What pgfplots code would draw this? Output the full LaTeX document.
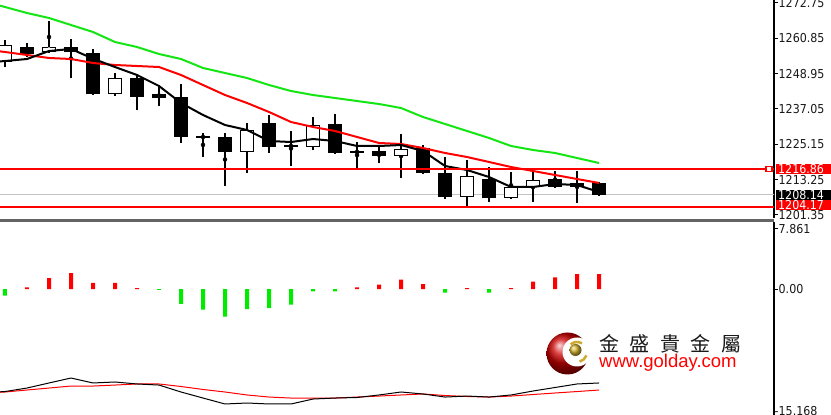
\documentclass[border=0pt]{standalone}
\usepackage{fontspec}
\setmainfont{DejaVu Sans}
\newfontfamily\condfont{DejaVu Sans Condensed}
\newfontfamily\cjk{Noto Sans CJK TC}
\newfontfamily\arialfont{Liberation Sans}
\usepackage{pgfplots}
\usepackage{pgfplotstable}
\pgfplotsset{compat=1.18}

\definecolor{mared}{RGB}{255,0,0}
\definecolor{magreen}{RGB}{20,230,20}
\definecolor{histgreen}{RGB}{0,235,0}
\definecolor{sepgray}{RGB}{100,100,100}
\definecolor{lgray}{RGB}{195,195,195}
\definecolor{gold}{RGB}{205,170,50}
\definecolor{txt}{RGB}{25,25,25}

% candles: wicks
\pgfplotstableread{
k H L
0 1260.3 1251.2
1 1259.3 1254.6
2 1266.7 1255.9
3 1260.6 1247.5
4 1257.3 1241.8
5 1249.2 1241.4
6 1248.5 1236.7
7 1245.1 1238.1
8 1245.5 1225.6
9 1229.0 1220.9
10 1229.0 1211.1
11 1232.3 1215.5
12 1235.0 1222.2
13 1229.6 1217.9
14 1234.4 1223.2
15 1235.4 1221.9
16 1225.9 1217.2
17 1224.3 1218.9
18 1228.6 1213.8
19 1224.9 1215.3
20 1220.9 1206.7
21 1219.9 1204.0
22 1217.5 1205.7
23 1215.8 1206.9
24 1215.8 1205.7
25 1216.2 1210.4
26 1216.2 1205.4
27 1212.5 1207.8
}\wicks

% bullish (white) bodies
\pgfplotstableread{
k O C
0 1252.9 1258.6
2 1256.2 1257.9
5 1242.1 1247.5
11 1222.6 1230.0
14 1224.3 1231.7
18 1221.2 1223.6
21 1207.4 1214.5
23 1207.1 1210.8
24 1210.8 1213.1
}\bulls

% bearish (black) bodies
\pgfplotstableread{
k O C
1 1257.9 1255.6
3 1257.9 1256.2
4 1255.9 1242.1
6 1247.5 1241.1
7 1242.1 1240.8
8 1241.1 1227.6
9 1227.8 1227.4
10 1227.6 1222.6
12 1232.3 1224.3
13 1224.8 1224.4
15 1232.0 1222.2
16 1222.9 1222.3
17 1222.9 1221.2
19 1223.9 1215.5
20 1215.5 1207.4
22 1213.5 1207.1
25 1213.5 1210.8
26 1212.1 1210.8
27 1212.1 1208.14
}\bears

% moving averages
\pgfplotstableread{
k blk red grn
-0.5 1252.9 1256.7 1272.4
0 1253.21 1256.25 1271.40
1 1253.89 1255.24 1269.38
2 1256.58 1254.23 1267.70
3 1257.26 1253.89 1265.34
4 1254.00 1252.54 1262.98
5 1251.19 1251.87 1259.61
6 1248.50 1251.53 1257.93
7 1244.79 1251.19 1255.57
8 1239.07 1248.50 1253.89
9 1235.03 1245.13 1250.86
10 1231.66 1241.76 1249.17
11 1229.98 1239.07 1247.49
12 1226.27 1236.04 1245.13
13 1225.93 1232.67 1243.11
14 1226.94 1230.99 1241.76
15 1226.27 1229.64 1240.75
16 1224.59 1227.62 1239.74
17 1224.59 1225.60 1238.73
18 1224.92 1225.26 1237.38
19 1222.90 1223.91 1234.35
20 1217.85 1222.23 1232.00
21 1216.50 1220.88 1229.64
22 1214.14 1219.20 1227.28
23 1210.78 1217.51 1224.59
24 1210.78 1216.17 1223.24
25 1211.79 1214.82 1222.23
26 1211.45 1213.47 1220.54
27 1209.09 1212.13 1218.86
}\mas

% indicator histogram
\pgfplotstableread{
k v
1 0.22
2 1.44
3 2.09
4 0.79
5 0.79
6 0.13
16 0.22
17 0.56
18 1.22
19 0.65
21 0.10
23 0.10
24 0.96
25 1.53
26 1.96
27 1.96
}\histpos
\pgfplotstableread{
k v
0 -0.88
7 -0.13
8 -1.96
9 -2.71
10 -3.63
11 -2.62
12 -2.49
13 -2.05
14 -0.30
15 -0.30
20 -0.48
22 -0.48
}\histneg

% indicator lines
\pgfplotstableread{
k blk red
-0.5 -13.50 -13.55
0 -13.42 -13.48
1 -12.96 -13.22
2 -12.30 -12.96
3 -11.65 -12.70
4 -12.30 -12.70
5 -12.17 -12.57
6 -12.43 -12.43
7 -12.57 -12.43
8 -13.48 -12.76
9 -14.27 -13.15
10 -15.05 -13.48
11 -14.92 -13.87
12 -15.05 -14.14
13 -15.05 -14.27
14 -14.40 -14.27
15 -14.27 -14.27
16 -14.20 -14.14
17 -13.87 -14.01
18 -13.48 -13.87
19 -13.74 -13.74
20 -14.14 -13.94
21 -14.01 -14.07
22 -14.14 -14.14
23 -13.87 -14.01
24 -13.35 -13.81
25 -12.89 -13.61
26 -12.43 -13.42
27 -12.30 -13.22
}\indlines

\begin{document}
\begin{tikzpicture}
\useasboundingbox (0pt,0pt) rectangle (831pt,415pt);
\fill[white] (0pt,0pt) rectangle (831pt,415pt);

\pgfplotsset{
  mt4/.style={
    scale only axis,
    width=774pt,
    xmin=-0.227, xmax=34.95,
    axis x line=none,
    axis y line*=right,
    tick align=outside,
    major tick length=4pt,
    y axis line style={black, line width=1.3pt},
    ytick style={black, line width=1pt},
    yticklabel style={font=\condfont\fontsize{12.3}{12.3}\selectfont, text=txt, anchor=west, inner xsep=0pt, xshift=0.5pt},
    clip mode=individual,
  }
}

% ---------------- price panel ----------------
\begin{axis}[mt4,
  at={(0pt,197pt)}, anchor=south west,
  height=218pt,
  ymin=1200.34, ymax=1273.76,
  ytick={1272.75,1260.85,1248.95,1237.05,1225.15,1213.25,1201.35},
  yticklabels={1272.75,1260.85,1248.95,1237.05,1225.15,1213.25,1201.35},
]
% reference line for last price
\addplot[lgray, line width=1pt, forget plot] coordinates {(-1,1208.14) (36,1208.14)};
% wicks
\addplot[black, only marks, mark=none, forget plot,
  error bars/.cd, y dir=both, y explicit, error mark=none,
  error bar style={draw=black, solid, line width=1.2pt}]
  table[x=k, y expr={(\thisrow{H}+\thisrow{L})/2}, y error expr={(\thisrow{H}-\thisrow{L})/2}] {\wicks};
% bearish bodies
\addplot[black, only marks, mark=none, forget plot,
  error bars/.cd, y dir=both, y explicit, error mark=none,
  error bar style={draw=black, solid, line width=14pt}]
  table[x=k, y expr={(\thisrow{O}+\thisrow{C})/2}, y error expr={(\thisrow{O}-\thisrow{C})/2}] {\bears};
% bullish bodies: outline then white fill
\addplot[black, only marks, mark=none, forget plot,
  error bars/.cd, y dir=both, y explicit, error mark=none,
  error bar style={draw=black, solid, line width=14pt}]
  table[x=k, y expr={(\thisrow{O}+\thisrow{C})/2}, y error expr={(\thisrow{C}-\thisrow{O})/2}] {\bulls};
\addplot[white, only marks, mark=none, forget plot,
  error bars/.cd, y dir=both, y explicit, error mark=none,
  error bar style={draw=white, solid, line width=12pt}]
  table[x=k, y expr={(\thisrow{O}+\thisrow{C})/2}, y error expr={(\thisrow{C}-\thisrow{O})/2-0.34}] {\bulls};
% moving averages
\addplot[magreen, line width=2pt, mark=none] table[x=k, y=grn] {\mas};
\addplot[mared, line width=2pt, mark=none] table[x=k, y=red] {\mas};
\addplot[black, line width=2pt, mark=none] table[x=k, y=blk] {\mas};
% horizontal levels
\addplot[mared, line width=2pt, mark=none] coordinates {(-1,1216.86) (34.95,1216.86)};
\addplot[mared, line width=2pt, mark=none] coordinates {(-1,1204.17) (34.95,1204.17)};
% price tags
\node[draw=mared, fill=white, line width=1.5pt, minimum width=6pt, minimum height=5pt, inner sep=0pt]
  at (axis cs:34.73,1216.86) {};
\node[fill=mared, text=white, anchor=west, inner xsep=2.5pt, inner ysep=1pt, text height=8.8pt, text depth=0pt,
  text width=55pt, align=left, font=\condfont\fontsize{12.3}{12.3}\selectfont]
  at ([xshift=1.5pt]axis cs:34.95,1216.86) {1216.86};
\node[fill=black, text=white, anchor=west, inner xsep=2.5pt, inner ysep=0.6pt, text height=8.8pt, text depth=0pt,
  text width=55pt, align=left, font=\condfont\fontsize{12.3}{12.3}\selectfont]
  at ([xshift=1.5pt]axis cs:34.95,1208.14) {1208.14};
\node[fill=mared, text=white, anchor=west, inner xsep=2.5pt, inner ysep=0.6pt, text height=8.8pt, text depth=0pt,
  text width=55pt, align=left, font=\condfont\fontsize{12.3}{12.3}\selectfont]
  at ([xshift=1.5pt]axis cs:34.95,1204.71) {1204.17};
\end{axis}

% separator
\fill[sepgray] (0pt,192.5pt) rectangle (774pt,195.5pt);

% ---------------- indicator panel ----------------
\begin{axis}[mt4,
  at={(0pt,0pt)}, anchor=south west,
  height=193pt,
  ymin=-16.49, ymax=8.77,
  ytick={7.861,0},
  yticklabels={7.861,0.00},
  extra y ticks={-15.93},
  extra y tick labels={-15.168},
  extra y tick style={major tick length=0pt},
]
\addplot[ybar, bar width=4pt, bar shift=0pt, fill=mared, draw=none] table[x=k, y=v] {\histpos};
\addplot[ybar, bar width=4pt, bar shift=0pt, fill=histgreen, draw=none] table[x=k, y=v] {\histneg};
\addplot[mared, line width=1pt, mark=none] table[x=k, y=red] {\indlines};
\addplot[black, line width=1pt, mark=none] table[x=k, y=blk] {\indlines};
\end{axis}

% ---------------- logo ----------------
\begin{scope}
  \clip (567.5pt,61.5pt) circle (21pt);
  \shade[ball color=red!80!black] (567.5pt,61.5pt) circle (21pt);
\end{scope}
\fill[white] (577pt,63pt) circle (14.5pt);
\draw[gold, line width=2.5pt] (577pt,63pt) ++(60:10pt) arc (60:130:10pt);
\draw[gold, line width=2.5pt] (577pt,63pt) ++(-20:10pt) arc (-20:-75:10pt);
\shade[ball color=gold!90!yellow] (575.5pt,65pt) circle (6pt);

\node[anchor=west, inner sep=0pt, text=txt] at (599pt,71pt)
  {\cjk\fontsize{20}{20}\selectfont 金\hspace{10.5pt}盛\hspace{10.5pt}貴\hspace{10.5pt}金\hspace{10.5pt}屬};
\node[anchor=base west, inner sep=0pt, text=mared] at (599pt,47pt)
  {\arialfont\fontsize{18.5}{18.5}\selectfont www.golday.com};
\end{tikzpicture}
\end{document}
